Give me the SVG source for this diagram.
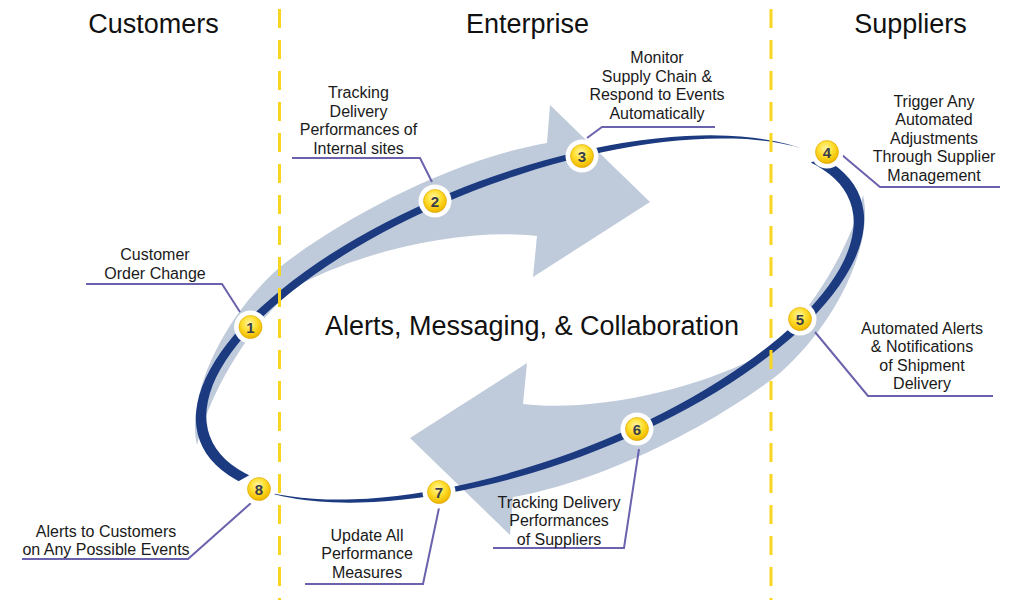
<svg xmlns="http://www.w3.org/2000/svg" xmlns:xlink="http://www.w3.org/1999/xlink" width="1012" height="600" viewBox="0 0 1012 600">
<style>
.hdr{font-family:"Liberation Sans",Arial,sans-serif;font-size:27px;fill:#111;text-anchor:middle}
.lbl{font-family:"Liberation Sans",Arial,sans-serif;font-size:16px;fill:#1a1a1a;text-anchor:middle}
.num{font-family:"Liberation Sans",Arial,sans-serif;font-size:15px;font-weight:bold;fill:#3a3d4a;text-anchor:middle}
.lead{fill:none;stroke:#6a62ad;stroke-width:2}
.dash{stroke:#f8d520;stroke-width:3;stroke-dasharray:19 12}
.halo{fill:#fff}
.ball{fill:url(#yel);stroke:#dba600;stroke-width:0.6}
.band{fill:#bfcadb}
</style>
<defs>
<radialGradient id="yel" cx="0.45" cy="0.35" r="0.7">
<stop offset="0" stop-color="#fff6a8"/>
<stop offset="0.45" stop-color="#ffdf30"/>
<stop offset="0.85" stop-color="#f2bc00"/>
<stop offset="1" stop-color="#d9a000"/>
</radialGradient>
<clipPath id="secA"><path d="M0,0 L592.8,-92.8 L600,600 L-600,600 L-586.9,124.7 Z"/></clipPath>
<path id="arrow" d="M197,445 C186,400 220,320 280,267 C340,220 450,160 547,143 L550,105 L650,202 L533,277 L537,236 C470,228 370,248 303,283 C255,315 210,390 197,445 Z"/>
</defs>
<rect width="1012" height="600" fill="#fff"/>

<g id="arrows">
<use href="#arrow" class="band"/>
<use href="#arrow" class="band" transform="rotate(180 530 320)"/>
</g>

<g id="ring" transform="translate(530,319) rotate(-20.2)">
<g id="crescA" clip-path="url(#secA)">
<path fill-rule="evenodd" fill="#1b3a80" d="M351.9,0 A351.9,146.7 0 1 0 -351.9,0 A351.9,146.7 0 1 0 351.9,0 Z M340.94,0.48 A348.1,139.3 0 1 0 -355.26,0.48 A348.1,139.3 0 1 0 340.94,0.48 Z"/>
</g>
<use href="#crescA" transform="rotate(180)"/>
</g>

<g id="dividers">
<line class="dash" x1="279.5" y1="9" x2="279.5" y2="600"/>
<line class="dash" x1="771" y1="9" x2="771" y2="600"/>
</g>

<g id="headers">
<text class="hdr" x="153.5" y="33">Customers</text>
<text class="hdr" x="527.5" y="33">Enterprise</text>
<text class="hdr" x="910.5" y="33">Suppliers</text>
</g>

<text id="title" x="532" y="335" font-family="Liberation Sans, Arial, sans-serif" font-size="27" fill="#111" text-anchor="middle">Alerts, Messaging, &amp; Collaboration</text>

<g id="connectors">
<polyline class="lead" points="86,284 222,284 240,312"/>
<polyline class="lead" points="292,158 420,158 432,182"/>
<polyline class="lead" points="715,127 602,127 587,138"/>
<polyline class="lead" points="842,155 880,187 1000,187"/>
<polyline class="lead" points="815,332 868,396 993,396"/>
<polyline class="lead" points="639,449 624,548 493,548"/>
<polyline class="lead" points="439,508 423,584 305,584"/>
<polyline class="lead" points="251,503 188,559 22,559"/>
</g>

<g id="node1">
<circle class="halo" cx="250.5" cy="327" r="16.5"/><circle class="ball" cx="250.5" cy="327" r="11.5"/>
<text class="num" x="250.5" y="332.5">1</text>
<text class="lbl" x="155" y="260">Customer</text>
<text class="lbl" x="155" y="278.5">Order Change</text>
</g>
<g id="node2">
<circle class="halo" cx="435" cy="201" r="16.5"/><circle class="ball" cx="435" cy="201" r="11.5"/>
<text class="num" x="435" y="206.5">2</text>
<text class="lbl" x="358.5" y="98">Tracking</text>
<text class="lbl" x="358.5" y="116.5">Delivery</text>
<text class="lbl" x="358.5" y="135">Performances of</text>
<text class="lbl" x="358.5" y="153.5">Internal sites</text>
</g>
<g id="node3">
<circle class="halo" cx="582" cy="156" r="16.5"/><circle class="ball" cx="582" cy="156" r="11.5"/>
<text class="num" x="582" y="161.5">3</text>
<text class="lbl" x="657" y="63">Monitor</text>
<text class="lbl" x="657" y="81.5">Supply Chain &amp;</text>
<text class="lbl" x="657" y="100">Respond to Events</text>
<text class="lbl" x="657" y="118.5">Automatically</text>
</g>
<g id="node4">
<circle class="halo" cx="827" cy="152" r="16.5"/><circle class="ball" cx="827" cy="152" r="11.5"/>
<text class="num" x="827" y="157.5">4</text>
<text class="lbl" x="934" y="106.5">Trigger Any</text>
<text class="lbl" x="934" y="125">Automated</text>
<text class="lbl" x="934" y="143.5">Adjustments</text>
<text class="lbl" x="934" y="162">Through Supplier</text>
<text class="lbl" x="934" y="180.5">Management</text>
</g>
<g id="node5">
<circle class="halo" cx="800" cy="319" r="16.5"/><circle class="ball" cx="800" cy="319" r="11.5"/>
<text class="num" x="800" y="324.5">5</text>
<text class="lbl" x="922" y="333.5">Automated Alerts</text>
<text class="lbl" x="922" y="352">&amp; Notifications</text>
<text class="lbl" x="922" y="370.5">of Shipment</text>
<text class="lbl" x="922" y="389">Delivery</text>
</g>
<g id="node6">
<circle class="halo" cx="637" cy="429" r="16.5"/><circle class="ball" cx="637" cy="429" r="11.5"/>
<text class="num" x="637" y="434.5">6</text>
<text class="lbl" x="559" y="507.5">Tracking Delivery</text>
<text class="lbl" x="559" y="526">Performances</text>
<text class="lbl" x="559" y="544.5">of Suppliers</text>
</g>
<g id="node7">
<circle class="halo" cx="439" cy="492" r="16.5"/><circle class="ball" cx="439" cy="492" r="11.5"/>
<text class="num" x="439" y="497.5">7</text>
<text class="lbl" x="367" y="540.5">Update All</text>
<text class="lbl" x="367" y="559">Performance</text>
<text class="lbl" x="367" y="577.5">Measures</text>
</g>
<g id="node8">
<circle class="halo" cx="259" cy="489" r="16.5"/><circle class="ball" cx="259" cy="489" r="11.5"/>
<text class="num" x="259" y="494.5">8</text>
<text class="lbl" x="106" y="536.5">Alerts to Customers</text>
<text class="lbl" x="106" y="555">on Any Possible Events</text>
</g>
</svg>
